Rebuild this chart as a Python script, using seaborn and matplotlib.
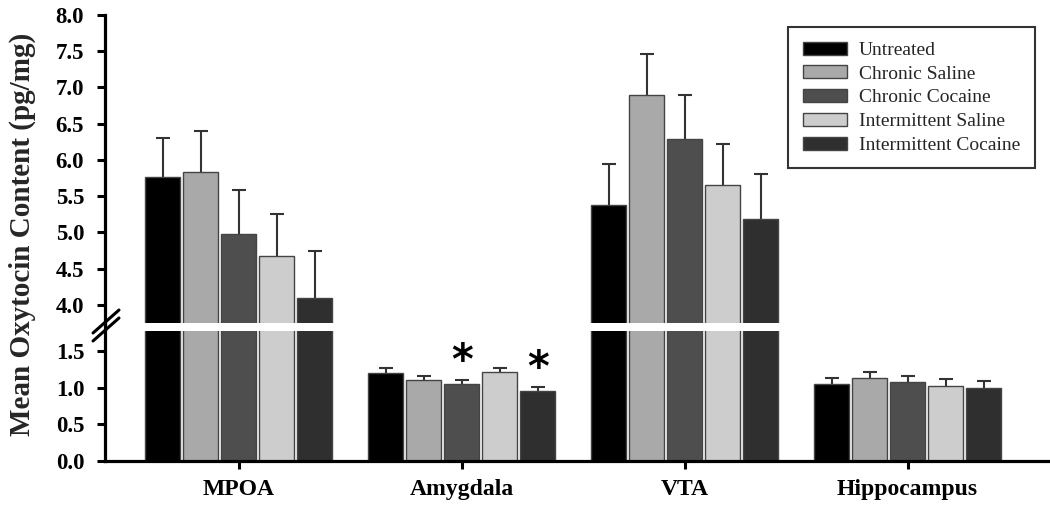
import numpy as np
import pandas as pd
import matplotlib
matplotlib.use('Agg')
import matplotlib.pyplot as plt
import seaborn as sns
from matplotlib.lines import Line2D

# ---- data ----
regions = ['MPOA', 'Amygdala', 'VTA', 'Hippocampus']
groups = ['Untreated', 'Chronic Saline', 'Chronic Cocaine',
          'Intermittent Saline', 'Intermittent Cocaine']

untreated = [5.76, 1.21, 5.38, 1.05]
chronic_saline = [5.84, 1.11, 6.90, 1.14]
chronic_cocaine = [4.98, 1.05, 6.29, 1.08]
int_saline = [4.67, 1.22, 5.65, 1.03]
int_cocaine = [4.10, 0.96, 5.19, 1.00]

untreated_sem = [0.54, 0.06, 0.56, 0.08]
chronic_saline_sem = [0.56, 0.055, 0.56, 0.08]
chronic_cocaine_sem = [0.60, 0.055, 0.60, 0.09]
int_saline_sem = [0.58, 0.055, 0.57, 0.09]
int_cocaine_sem = [0.64, 0.055, 0.61, 0.09]

# significant bars: (group, region)
stars = [('Chronic Cocaine', 'Amygdala'), ('Intermittent Cocaine', 'Amygdala')]

means = dict(zip(groups, [untreated, chronic_saline, chronic_cocaine,
                          int_saline, int_cocaine]))
sems = dict(zip(groups, [untreated_sem, chronic_saline_sem, chronic_cocaine_sem,
                         int_saline_sem, int_cocaine_sem]))
palette = dict(zip(groups, ['#000000', '#a9a9a9', '#4e4e4e', '#cdcdcd', '#2f2f2f']))

rows = []
for g in groups:
    for r, v in zip(regions, means[g]):
        rows.append({'region': r, 'group': g, 'value': v})
df = pd.DataFrame(rows)

sns.set_theme(style='white')
plt.rcParams['font.family'] = ['Liberation Serif', 'DejaVu Serif']
plt.rcParams['font.weight'] = 'bold'

W, H = 1050, 508
fig = plt.figure(figsize=(W / 100, H / 100), dpi=100)


def fbox(l, t, r, b):
    return [l / W, 1 - b / H, (r - l) / W, (b - t) / H]


ax_top = fig.add_axes(fbox(105, 15, 1048, 323))
ax_bot = fig.add_axes(fbox(105, 331, 1048, 461))

for ax in (ax_top, ax_bot):
    sns.barplot(data=df, x='region', y='value', hue='group', order=regions,
                hue_order=groups, palette=palette, saturation=1,
                width=0.852, gap=0.08, edgecolor='#444444', linewidth=1,
                errorbar=None, ax=ax, legend=(ax is ax_top), zorder=2)
    for cont, g in zip(ax.containers, groups):
        xs = [b.get_x() + b.get_width() / 2 for b in cont]
        ys = [b.get_height() for b in cont]
        eb = ax.errorbar(xs, ys, yerr=[np.zeros(len(ys)), sems[g]], fmt='none',
                         ecolor='#333333', elinewidth=1.5, capsize=4.7,
                         capthick=1.5, zorder=1)
        eb[1][0].set_visible(False)  # no cap at the bar top
    ax.set_xlim(-0.6, 3.63)
    ax.set_xlabel('')
    ax.set_ylabel('')
    for s in ['top', 'right']:
        ax.spines[s].set_visible(False)
    for s in ['left', 'bottom']:
        ax.spines[s].set_linewidth(2.3)
        ax.spines[s].set_color('black')
    ax.tick_params(axis='y', left=True, direction='out', length=6, width=2.2,
                   pad=9, labelsize=16.5, colors='black')

# upper segment
ax_top.set_ylim(3.75, 8.0)
ax_top.set_yticks(np.arange(4.0, 8.01, 0.5))
ax_top.set_yticklabels([f'{v:.1f}' for v in np.arange(4.0, 8.01, 0.5)])
ax_top.spines['bottom'].set_visible(False)
ax_top.set_xticks([])

# lower segment
ax_bot.set_ylim(0, 1.78)
ax_bot.set_yticks(np.arange(0, 1.51, 0.5))
ax_bot.set_yticklabels([f'{v:.1f}' for v in np.arange(0, 1.51, 0.5)])
ax_bot.tick_params(axis='x', bottom=True, direction='out', length=6, width=2.2,
                   pad=7, labelsize=17, colors='black')

# asterisks
for g, r in stars:
    gi, ri = groups.index(g), regions.index(r)
    bar = ax_bot.containers[gi][ri]
    ax_bot.text(bar.get_x() + bar.get_width() / 2,
                means[g][ri] + sems[g][ri] + 0.25, '*',
                ha='center', va='center', fontsize=30, fontweight='bold',
                family='DejaVu Sans', color='black')

# legend
handles, labels = ax_top.get_legend_handles_labels()
leg = ax_top.legend(handles, labels, loc='upper right',
                    bbox_to_anchor=(0.986, 0.961), borderaxespad=0,
                    frameon=True, fancybox=False, edgecolor='black',
                    prop={'family': 'Liberation Serif', 'weight': 'normal', 'size': 14},
                    handlelength=2.3, handleheight=0.65, handletextpad=0.6,
                    labelspacing=0.33, borderpad=0.75)
leg.get_frame().set_linewidth(1.5)

# axis break: join the spine and draw the double slash
fig.add_artist(Line2D([105 / W, 105 / W], [1 - 323 / H, 1 - 331 / H],
                      transform=fig.transFigure, color='black', lw=2.3))
for dy in (0, 8):
    fig.add_artist(Line2D([93 / W, 119 / W],
                          [1 - (333 + dy) / H, 1 - (310 + dy) / H],
                          transform=fig.transFigure, color='black', lw=2.2))

fig.text(22 / W, 1 - 234 / H, 'Mean Oxytocin Content (pg/mg)', rotation=90,
         ha='center', va='center', fontsize=21, fontweight='bold')

fig.savefig('out.png', dpi=100, facecolor='white')
